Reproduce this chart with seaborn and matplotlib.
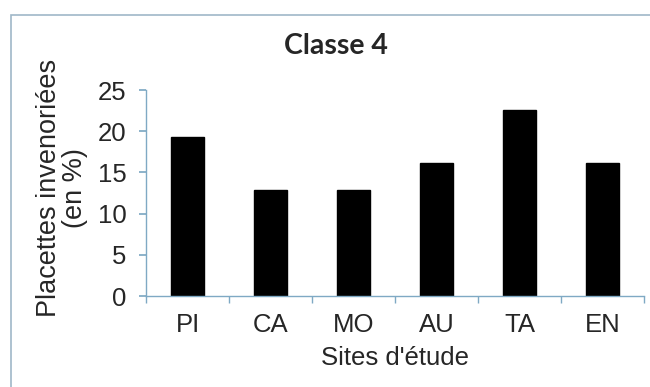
import matplotlib
matplotlib.use("Agg")
import matplotlib.pyplot as plt
import seaborn as sns
import pandas as pd
import numpy as np
from matplotlib.patches import Rectangle

sites = ["PI", "CA", "MO", "AU", "TA", "EN"]
values = [19.35, 12.9, 12.9, 16.1, 22.6, 16.1]
yticks = [0, 5, 10, 15, 20, 25]

sns.set_theme(style="white")
plt.rcParams['font.family'] = ['Liberation Sans', 'DejaVu Sans']

df = pd.DataFrame({"site": sites, "val": values})

fig = plt.figure(figsize=(6.5, 3.87), dpi=100)
fig.patch.set_facecolor("white")
ax = fig.add_axes([146/650, 1-296/387, (644-146)/650, (296-90)/387])

sns.barplot(data=df, x="site", y="val", color="black", width=0.40,
            saturation=1, ax=ax, edgecolor="black")

spine_col = "#7fa9c4"
fs = 18.5
ax.set_xlim(-0.5, 5.5)
ax.set_ylim(0, 25)
ax.set_yticks(yticks)
ax.set_yticklabels([str(t) for t in yticks], fontsize=fs)
for s in ["top", "right"]:
    ax.spines[s].set_visible(False)
for s in ["left", "bottom"]:
    ax.spines[s].set_color(spine_col)
    ax.spines[s].set_linewidth(1.0)
ax.tick_params(axis="y", which="major", direction="out", length=5, color=spine_col,
               left=True, pad=9)
ax.set_xticks(range(len(sites)))
ax.set_xticklabels(sites, fontsize=fs)
ax.set_xticks(np.arange(-0.5, 6, 1.0), minor=True)
ax.tick_params(axis="x", which="major", length=0, pad=12)
ax.tick_params(axis="x", which="minor", direction="out", length=5, color=spine_col, bottom=True)
ax.set_xlabel("Sites d'étude", fontsize=fs, labelpad=7)
ax.set_ylabel("Placettes invenoriées\n(en %)", fontsize=19.5, linespacing=1.0)
ax.yaxis.set_label_coords(-0.1165, 0.524)

fig.text(336/650, 1-46/387, "Classe 4", fontsize=20.5, fontweight="bold",
         family=["Lato", "DejaVu Sans"], ha="center", va="center")

frame = Rectangle((11/650, -0.1), 1.2, (1-15/387) + 0.1, transform=fig.transFigure,
                  fill=False, edgecolor="#9fb8c8", linewidth=1.2)
fig.patches.append(frame)

fig.savefig("out.png", dpi=100, facecolor="white")
